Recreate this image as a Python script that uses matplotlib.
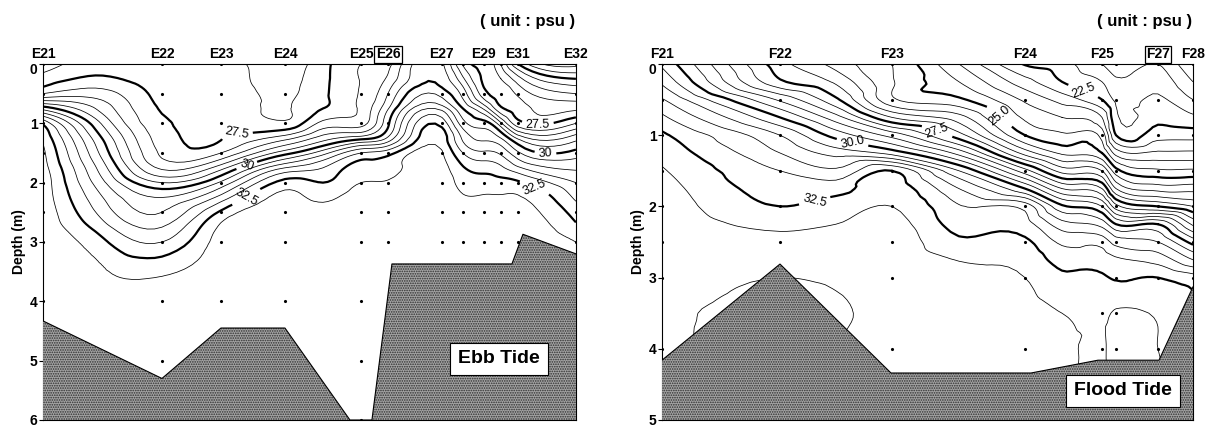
import numpy as np
import matplotlib
matplotlib.use('Agg')
import matplotlib.pyplot as plt
import matplotlib.tri as mtri
import matplotlib.transforms as mtransforms

plt.rcParams['font.family'] = ['Liberation Sans', 'DejaVu Sans']
plt.rcParams['hatch.linewidth'] = 0.8

# ---- Ebb tide section (E21 - E32) ----
# grid columns (km along section) and grid depths (m)
ebb_x = [0.0, 0.60, 1.19, 1.78, 2.42, 2.80, 3.18, 3.45, 3.99, 4.20, 4.41, 4.58, 4.75, 5.33]
ebb_depth = [0, 0.25, 0.5, 0.75, 1.0, 1.25, 1.5, 1.75, 2.0, 2.25, 2.5, 2.75, 3.0, 3.5, 4.0, 5.0, 6.0]
# salinity (psu), one list per column, top to bottom
ebb_sal = [
    [26.8, 27.2, 28.0, 30.3, 32.4, 32.9, 33.1, 33.2, 33.3, 33.3, 33.35, 33.35, 33.4, 33.4, 33.4, 33.4, 33.4],
    [27.3, 27.6, 28.2, 28.8, 29.4, 29.95, 30.3, 30.7, 31.1, 31.5, 31.8, 32.2, 32.6, 33.05, 33.3, 33.4, 33.4],
    [27.2, 27.25, 27.35, 27.45, 27.6, 27.75, 27.9, 28.4, 29.5, 30.5, 31.0, 31.5, 32.0, 32.9, 33.2, 33.4, 33.4],
    [27.15, 27.2, 27.25, 27.3, 27.4, 27.48, 28.0, 29.3, 30.6, 31.7, 32.6, 33.1, 33.25, 33.35, 33.4, 33.4, 33.4],
    [26.8, 26.85, 26.9, 26.95, 27.1, 28.3, 29.8, 31.5, 32.7, 33.15, 33.3, 33.35, 33.4, 33.4, 33.4, 33.4, 33.4],
    [27.3, 27.35, 27.4, 27.5, 28.15, 29.25, 30.8, 32.0, 32.5, 32.9, 33.15, 33.3, 33.35, 33.4, 33.4, 33.4, 33.4],
    [28.0, 28.02, 28.05, 28.1, 28.3, 29.8, 32.0, 32.7, 33.0, 33.2, 33.3, 33.35, 33.4, 33.4, 33.4, 33.4, 33.4],
    [28.3, 28.6, 29.0, 29.45, 29.9, 30.6, 32.3, 32.8, 33.05, 33.2, 33.3, 33.35, 33.4, 33.4, 33.4, 33.4, 33.4],
    [29.6, 29.8, 30.3, 31.3, 32.3, 32.75, 33.05, 33.2, 33.3, 33.35, 33.4, 33.4, 33.4, 33.4, 33.4, 33.4, 33.4],
    [27.9, 28.6, 29.3, 30.0, 30.7, 31.4, 32.0, 32.55, 32.85, 33.05, 33.2, 33.3, 33.35, 33.4, 33.4, 33.4, 33.4],
    [27.3, 27.4, 27.7, 28.9, 30.2, 30.9, 31.6, 32.3, 32.75, 33.05, 33.2, 33.3, 33.35, 33.4, 33.4, 33.4, 33.4],
    [26.5, 27.0, 27.3, 27.6, 29.1, 30.5, 31.4, 32.1, 32.7, 33.05, 33.2, 33.3, 33.35, 33.4, 33.4, 33.4, 33.4],
    [25.0, 26.2, 26.9, 27.25, 27.7, 29.4, 30.6, 31.6, 32.6, 33.05, 33.2, 33.3, 33.35, 33.4, 33.4, 33.4, 33.4],
    [23.8, 25.0, 26.0, 26.9, 28.0, 29.3, 30.2, 30.9, 31.5, 31.9, 32.3, 32.6, 33.0, 33.1, 33.3, 33.4, 33.4],
]
ebb_st_x = [0.0, 1.19, 1.78, 2.42, 3.18, 3.45, 3.99, 4.20, 4.41, 4.58, 4.75, 5.33]
ebb_st_names = ['E21', 'E22', 'E23', 'E24', 'E25', 'E26', 'E27', '', 'E29', '', 'E31', 'E32']
ebb_samples = [
    [0, 0.5, 1, 1.5, 2, 2.5, 3, 4],
    [0, 0.5, 1, 1.5, 2, 2.5, 3, 4, 5],
    [0, 0.5, 1, 1.5, 2, 2.5, 3, 4],
    [0, 0.5, 1, 2, 2.5, 3, 4],
    [0, 0.5, 1, 1.5, 2, 2.5, 3, 4, 5, 6],
    [0, 0.5, 1, 1.5, 2, 2.5, 3],
    [0, 0.5, 1, 1.5, 2, 2.5, 3],
    [0, 0.5, 1, 1.5, 2, 2.5, 3],
    [0, 0.5, 1, 1.5, 2, 2.5, 3],
    [0, 0.5, 1, 1.5, 2, 2.5, 3],
    [0, 0.5, 1, 1.5, 2, 2.5, 3],
    [0, 0.5, 1, 1.5, 2, 2.5, 3],
]
ebb_bot_x = [0.0, 1.19, 1.78, 2.42, 3.07, 3.29, 3.49, 4.69, 4.80, 5.33]
ebb_bot_d = [4.33, 5.3, 4.45, 4.45, 6.0, 6.0, 3.37, 3.37, 2.87, 3.2]
ebb_labels = [(1.94, 1.2), (4.95, 0.9), (2.03, 1.67), (5.03, 1.42), (2.04, 2.26), (4.9, 2.15)]

# ---- Flood tide section (F21 - F28) ----
fl_x = [0.0, 1.18, 1.74, 2.30, 2.97, 3.63, 4.00, 4.40, 4.54, 4.96, 5.31]
fl_depth = [0, 0.25, 0.5, 0.75, 1.0, 1.25, 1.5, 1.75, 2.0, 2.25, 2.5, 2.75, 3.0, 3.5, 4.0, 5.0]
fl_sal = [
    [30.4, 30.9, 31.55, 32.1, 32.6, 32.85, 33.05, 33.2, 33.3, 33.35, 33.4, 33.4, 33.4, 33.4, 33.4, 33.4],
    [27.2, 27.6, 28.9, 30.0, 31.0, 31.5, 32.0, 32.25, 32.5, 32.85, 33.2, 33.4, 33.5, 33.7, 33.7, 33.7],
    [26.3, 26.9, 27.6, 28.7, 29.8, 30.8, 31.6, 32.3, 32.75, 33.0, 33.2, 33.35, 33.45, 33.55, 33.5, 33.5],
    [25.5, 25.55, 25.6, 27.0, 28.8, 30.3, 32.5, 32.8, 33.0, 33.2, 33.3, 33.35, 33.4, 33.4, 33.4, 33.4],
    [24.0, 24.5, 25.1, 26.2, 27.2, 28.8, 30.5, 31.5, 32.05, 32.3, 32.6, 32.98, 33.15, 33.3, 33.35, 33.35],
    [22.45, 23.2, 23.9, 24.4, 25.0, 26.3, 28.2, 30.0, 31.8, 32.2, 32.6, 32.85, 33.0, 33.2, 33.3, 33.3],
    [22.2, 22.5, 23.3, 24.0, 24.6, 25.4, 26.8, 28.5, 30.1, 31.2, 31.9, 32.3, 32.6, 33.0, 33.1, 33.1],
    [21.5, 22.0, 22.5, 23.5, 24.3, 25.0, 26.5, 28.0, 29.5, 30.8, 31.8, 32.3, 32.55, 32.9, 32.95, 33.0],
    [21.2, 21.6, 21.9, 22.1, 22.5, 23.8, 25.2, 26.5, 28.2, 30.0, 31.3, 32.1, 32.45, 33.05, 33.15, 33.15],
    [21.5, 21.8, 22.1, 22.35, 22.8, 23.6, 24.6, 25.8, 27.5, 30.0, 31.0, 31.8, 32.5, 32.95, 33.0, 33.0],
    [20.5, 21.0, 21.5, 22.1, 22.8, 23.6, 24.6, 25.8, 27.0, 28.4, 29.8, 31.0, 32.2, 32.6, 32.8, 32.8],
]
fl_st_x = [0.0, 1.18, 2.30, 3.63, 4.40, 4.54, 4.96, 5.31]
fl_st_names = ['F21', 'F22', 'F23', 'F24', 'F25', '', 'F27', 'F28']
fl_samples = [
    [0, 0.5, 1, 1.5, 2, 2.5, 3, 4],
    [0, 0.5, 1, 1.5, 2, 2.5],
    [0, 0.5, 1, 1.5, 2, 2.5, 3, 4],
    [0, 0.5, 1, 1.5, 2, 2.5, 3, 4],
    [0, 0.5, 1, 1.5, 2, 2.5, 3.5, 4],
    [0, 0.5, 1.5, 2, 2.5, 3, 3.5, 4],
    [0, 0.5, 1, 1.5, 2, 2.5, 3, 4],
    [0, 0.5, 1, 1.5, 2, 2.5, 3],
]
fl_bot_x = [0.0, 1.18, 2.29, 3.69, 4.36, 4.97, 5.31]
fl_bot_d = [4.16, 2.81, 4.34, 4.34, 4.16, 4.16, 3.13]
fl_labels = [(4.18, 0.5), (3.36, 0.76), (2.75, 0.95), (1.91, 1.07), (1.53, 1.94)]


def draw_section(fig, ax, xs, depths, sal, levels, fmt, label_pos, kind,
                 st_x, st_names, boxed, samples, bot_x, bot_d, dmax, tide):
    X, D = np.meshgrid(xs, depths, indexing='ij')
    S = np.array(sal).ravel()
    tri = mtri.Triangulation(X.ravel(), D.ravel())
    interp = mtri.CubicTriInterpolator(tri, S, kind=kind)
    tri_f, s_f = mtri.UniformTriRefiner(tri).refine_field(S, triinterpolator=interp, subdiv=3)

    thin = [v for v in levels if v % 2.5 != 0]
    thick = [v for v in levels if v % 2.5 == 0]
    ax.tricontour(tri_f, s_f, levels=thin, colors='k', linewidths=0.55, zorder=1)
    cs = ax.tricontour(tri_f, s_f, levels=thick, colors='k', linewidths=1.6, zorder=1)
    txts = ax.clabel(cs, fmt=fmt, manual=label_pos, fontsize=9, inline=True, inline_spacing=4)
    for t in txts:
        t.set_fontweight('normal')

    # sampling points
    for x, ds in zip(st_x, samples):
        ax.plot([x] * len(ds), ds, 'k.', ms=2.5, zorder=2)

    # sea bed
    ax.fill_between(bot_x, bot_d, dmax, facecolor='#a4a4a4', edgecolor='#2e2e2e',
                    hatch='.......', linewidth=0, zorder=3)
    ax.plot(bot_x, bot_d, color='k', lw=0.8, zorder=4)

    ax.set_xlim(0, xs[-1])
    ax.set_ylim(dmax, 0)
    ax.set_yticks(range(int(dmax) + 1))
    ax.tick_params(axis='y', length=3, width=0.8, pad=1, labelsize=10)
    for lbl in ax.get_yticklabels():
        lbl.set_fontweight('bold')
    # the surface label sits a little lower, under the station names
    lbl0 = ax.get_yticklabels()[0]
    lbl0.set_transform(lbl0.get_transform() +
                       mtransforms.ScaledTranslation(0, -3 / 72, fig.dpi_scale_trans))
    ax.set_ylabel('Depth (m)', fontsize=10, fontweight='bold', labelpad=3)

    ax.xaxis.tick_top()
    ax.set_xticks(st_x)
    ax.set_xticklabels(st_names, fontsize=10, fontweight='bold')
    ax.tick_params(axis='x', length=0, pad=2)
    ax.get_xticklabels()[boxed].set_bbox(dict(boxstyle='square,pad=0.1', fc='white',
                                              ec='k', lw=0.9))
    for sp in ax.spines.values():
        sp.set_linewidth(0.8)

    ax.text(tide[0], tide[1], tide[2], ha='center', va='center', fontsize=14,
            fontweight='bold', zorder=6,
            bbox=dict(boxstyle='square,pad=0.4', fc='white', ec='k', lw=0.8))


fig = plt.figure(figsize=(12.14, 4.28), dpi=100)
ax1 = fig.add_axes([0.0354, 0.0187, 0.439, 0.8318])
ax2 = fig.add_axes([0.5453, 0.0187, 0.4374, 0.8318])

ebb_levels = [23.5 + 0.5 * i for i in range(20)]
fl_levels = [20.5 + 0.5 * i for i in range(27)]

draw_section(fig, ax1, ebb_x, ebb_depth, ebb_sal, ebb_levels, '%g', ebb_labels, 'min_E',
             ebb_st_x, ebb_st_names, 5, ebb_samples, ebb_bot_x, ebb_bot_d, 6,
             (4.56, 4.97, 'Ebb Tide'))
draw_section(fig, ax2, fl_x, fl_depth, fl_sal, fl_levels, '%.1f', fl_labels, 'geom',
             fl_st_x, fl_st_names, 6, fl_samples, fl_bot_x, fl_bot_d, 5,
             (4.61, 4.59, 'Flood Tide'))

fig.text(0.4736, 0.949, '( unit : psu )', ha='right', va='center', fontsize=12, fontweight='bold')
fig.text(0.982, 0.949, '( unit : psu )', ha='right', va='center', fontsize=12, fontweight='bold')

fig.savefig('out.png', dpi=100)
